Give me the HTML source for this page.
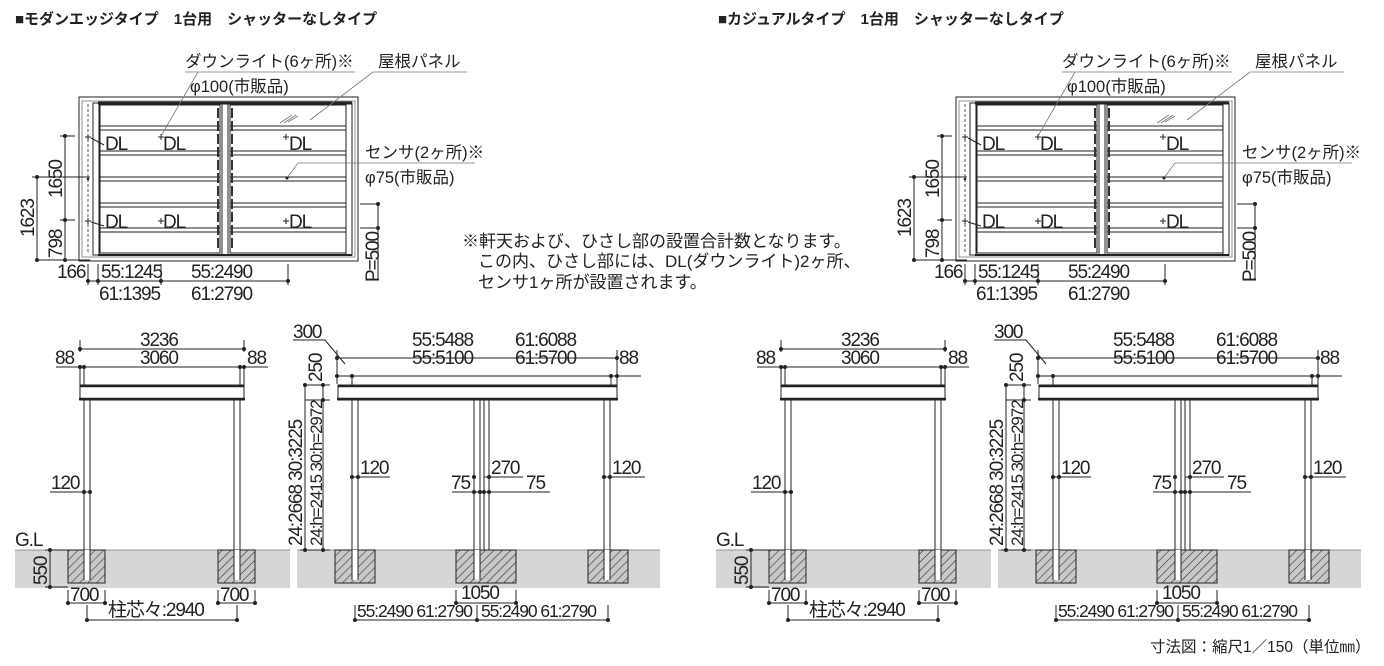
<!DOCTYPE html>
<html><head><meta charset="utf-8"><style>
html,body{margin:0;padding:0;background:#fff;width:1384px;height:666px;overflow:hidden}
svg{display:block}
text{font-family:"Liberation Sans","Noto Sans CJK JP",sans-serif;fill:#222}
.n{font-size:19px;letter-spacing:-1.1px}
.j{font-size:16.5px}
.t{font-size:15px;font-weight:bold}
.l{stroke:#222;stroke-width:1;fill:none}
.g{stroke:#777;stroke-width:0.8;fill:none}
</style></head><body>
<svg width="1384" height="666" viewBox="0 0 1384 666" xmlns="http://www.w3.org/2000/svg">
<defs>
<pattern id="h" patternUnits="userSpaceOnUse" width="6" height="6" patternTransform="rotate(45)"><rect width="6" height="6" fill="#c8c8c8"/><line x1="0" y1="0" x2="0" y2="6" stroke="#333" stroke-width="1.2"/></pattern>
</defs>
<text class="t" x="15" y="24">■モダンエッジタイプ　1台用　シャッターなしタイプ</text>
<text class="t" x="718" y="24">■カジュアルタイプ　1台用　シャッターなしタイプ</text>

<g id="plan">
<rect x="79" y="97" width="279" height="164" class="l" stroke-width="1.5"/>
<rect x="82" y="101" width="273" height="156" class="g"/>
<line x1="98" y1="103" x2="352" y2="103" stroke="#222" stroke-width="3"/>
<line x1="98" y1="255" x2="352" y2="255" stroke="#222" stroke-width="2"/>
<line x1="88" y1="104" x2="88" y2="254" stroke="#555" stroke-dasharray="3,2"/>
<rect x="93" y="103" width="6" height="152" class="l"/>
<rect x="346" y="103" width="6" height="152" class="l"/>
<rect x="222" y="103" width="6" height="152" class="l"/>
<rect x="100" y="105" width="120" height="148" class="l"/>
<rect x="230" y="105" width="116" height="148" class="l"/>
<g class="l">
<path d="M100 126H220M100 130H220M230 126H346M230 130H346"/>
<path d="M100 151H220M100 155H220M230 151H346M230 155H346"/>
<path d="M100 177H220M100 181H220M230 177H346M230 181H346"/>
<path d="M100 203H220M100 207H220M230 203H346M230 207H346"/>
<path d="M100 228H220M100 232H220M230 228H346M230 232H346"/>
</g>
<path d="M218 108V250M232 108V250" stroke="#333" stroke-width="2" stroke-dasharray="10,3"/>
<path d="M280 123L292 115M284 123L296 115M288 122L298 116" class="g"/>
<text class="n" x="105" y="150">DL</text><text class="n" x="163" y="150">DL</text><text class="n" x="289" y="150">DL</text>
<text class="n" x="105" y="228">DL</text><text class="n" x="163" y="228">DL</text><text class="n" x="289" y="228">DL</text>
<g class="l"><path d="M85 137h6M88 134v6M158 137h6M161 134v6M283 137h6M286 134v6M85 221h6M88 218v6M158 221h6M161 218v6M283 221h6M286 218v6"/>
<path d="M91 138L104 145M91 222L104 226"/></g>
<circle cx="88" cy="179" r="1.3" fill="#222"/>
<text class="j" x="185" y="67">ダウンライト(6ヶ所)※</text>
<line x1="185" y1="72" x2="355" y2="72" class="g"/>
<text class="j" x="190" y="92">φ100(市販品)</text>
<line x1="198" y1="72" x2="161" y2="136" class="g"/>
<text class="j" x="378" y="67">屋根パネル</text>
<path d="M467 72H373L310 120" class="g"/>
<text class="j" x="365" y="158">センサ(2ヶ所)※</text>
<text class="j" x="365" y="183">φ75(市販品)</text>
<path d="M475 163H298L287 178" class="g"/>
<circle cx="287" cy="178" r="1.5" fill="#222"/>
<g class="l">
<path d="M65 136V220M60 136H75M37 177V260M32 177H90M37 260H90M65 260V220M60 220H75"/>
<path d="M88 281H288M88 264V285M98 264V285M161 264V285M288 264V285"/>
<path d="M378 204V280M360 204H380M360 228H380"/>
</g>
<g fill="#222"><circle cx="65" cy="136" r="2"/><circle cx="65" cy="220" r="2"/><circle cx="65" cy="260" r="2"/><circle cx="37" cy="177" r="2"/><circle cx="37" cy="260" r="2"/><circle cx="88" cy="281" r="2"/><circle cx="98" cy="281" r="2"/><circle cx="161" cy="281" r="2"/><circle cx="288" cy="281" r="2"/><circle cx="378" cy="204" r="2"/><circle cx="378" cy="228" r="2"/></g>
<text class="n" transform="translate(62,198) rotate(-90)">1650</text>
<text class="n" transform="translate(34,237) rotate(-90)">1623</text>
<text class="n" transform="translate(62,258) rotate(-90)">798</text>
<text class="n" transform="translate(379,282) rotate(-90)">P=500</text>
<text class="n" x="57" y="278">166</text>
<text class="n" x="101" y="278">55:1245</text>
<text class="n" x="191" y="278">55:2490</text>
<text class="n" x="99" y="300">61:1395</text>
<text class="n" x="191" y="300">61:2790</text>
</g>
<use href="#plan" transform="translate(877,0)"/>

<text x="462" y="247" style="font-size:17px">※軒天および、ひさし部の設置合計数となります。</text>
<text x="478" y="267" style="font-size:17px">この内、ひさし部には、DL(ダウンライト)2ヶ所、</text>
<text x="478" y="288" style="font-size:17px">センサ1ヶ所が設置されます。</text>

<g id="elev">
<rect x="15" y="550" width="275" height="38" fill="#d6d6d6"/>
<rect x="297" y="550" width="363" height="38" fill="#d6d6d6"/>
<line x1="15" y1="550" x2="290" y2="550" class="g"/>
<line x1="297" y1="550" x2="660" y2="550" class="g"/>
<text class="n" x="15" y="546">G.L</text>
<g class="l">
<path d="M80 349H244M80 340V352M244 340V352M56 367H268M80 367V386M84 367V386M240 367V386M244 367V386"/>
</g>
<g fill="#222"><circle cx="80" cy="349" r="2"/><circle cx="244" cy="349" r="2"/><circle cx="80" cy="367" r="2"/><circle cx="84" cy="367" r="2"/><circle cx="240" cy="367" r="2"/><circle cx="244" cy="367" r="2"/></g>
<text class="n" x="140" y="346">3236</text>
<text class="n" x="140" y="364">3060</text>
<text class="n" x="55" y="364">88</text><text class="n" x="247" y="364">88</text>
<rect x="80" y="385" width="164" height="15" class="l"/>
<line x1="80" y1="386" x2="244" y2="386" stroke="#222" stroke-width="2.5"/>
<line x1="79" y1="399" x2="245" y2="399" stroke="#222" stroke-width="2.5"/>
<rect x="84" y="400" width="6" height="182" class="l" style="fill:#fff"/>
<rect x="234" y="400" width="6" height="182" class="l" style="fill:#fff"/>
<rect x="68" y="550" width="37" height="33" class="l" style="fill:url(#h)"/>
<rect x="84" y="550" width="6" height="30" style="fill:#fff"/>
<rect x="218" y="550" width="37" height="33" class="l" style="fill:url(#h)"/>
<rect x="234" y="550" width="6" height="30" style="fill:#fff"/>
<g class="l"><path d="M84 550V580M90 550V580M234 550V580M240 550V580"/></g>
<g class="l"><path d="M50 492H90M50 550V587M45 550H68M45 587H68M68 590V605M105 590V605M218 590V605M255 590V605M68 603H105M218 603H255M87 605V622M237 605V622M87 620H237"/></g>
<g fill="#222"><circle cx="84" cy="492" r="2"/><circle cx="90" cy="492" r="2"/><circle cx="50" cy="550" r="2"/><circle cx="50" cy="587" r="2"/><circle cx="68" cy="603" r="2"/><circle cx="105" cy="603" r="2"/><circle cx="218" cy="603" r="2"/><circle cx="255" cy="603" r="2"/><circle cx="87" cy="620" r="2"/><circle cx="237" cy="620" r="2"/></g>
<text class="n" x="51" y="489">120</text>
<text class="n" transform="translate(47,585) rotate(-90)">550</text>
<text class="n" x="70" y="601">700</text><text class="n" x="220" y="601">700</text>
<text class="n" x="108" y="616">柱芯々:2940</text>
<g class="l"><path d="M337 358H617M337 350V384M617 350V384M337 376H641M352 376V386M611 376V386M617 376V386M293 340H325L345 364M305 385H330M305 400H330M300 550H330M305 385V550M323 385V550"/></g>
<g fill="#222"><circle cx="337" cy="358" r="2"/><circle cx="617" cy="358" r="2"/><circle cx="337" cy="376" r="2"/><circle cx="352" cy="376" r="2"/><circle cx="611" cy="376" r="2"/><circle cx="617" cy="376" r="2"/><circle cx="323" cy="385" r="2"/><circle cx="323" cy="400" r="2"/><circle cx="305" cy="385" r="2"/><circle cx="305" cy="550" r="2"/><circle cx="323" cy="550" r="2"/></g>
<text class="n" x="293" y="338">300</text>
<text class="n" x="412" y="346">55:5488</text><text class="n" x="515" y="346">61:6088</text>
<text class="n" x="412" y="364">55:5100</text><text class="n" x="515" y="364">61:5700</text>
<text class="n" x="619" y="364">88</text>
<text class="n" transform="translate(322,382) rotate(-90)">250</text>
<text class="n" transform="translate(302,546) rotate(-90)">24:2668  30:3225</text>
<text class="n" style="font-size:17px" transform="translate(322,546) rotate(-90)">24:h=2415  30:h=2972</text>
<rect x="338" y="385" width="279" height="15" class="l"/>
<line x1="338" y1="386" x2="617" y2="386" stroke="#222" stroke-width="2.5"/>
<line x1="337" y1="399" x2="618" y2="399" stroke="#222" stroke-width="2.5"/>
<rect x="352" y="400" width="6" height="182" class="l" style="fill:#fff"/>
<rect x="474" y="400" width="6" height="182" class="l" style="fill:#fff"/>
<rect x="484" y="400" width="5" height="150" class="l" style="fill:#fff"/>
<rect x="604" y="400" width="6" height="182" class="l" style="fill:#fff"/>
<rect x="335" y="550" width="40" height="33" class="l" style="fill:url(#h)"/><rect x="352" y="550" width="6" height="30" style="fill:#fff"/>
<rect x="456" y="550" width="60" height="33" class="l" style="fill:url(#h)"/><rect x="474" y="550" width="6" height="30" style="fill:#fff"/>
<rect x="588" y="550" width="40" height="33" class="l" style="fill:url(#h)"/><rect x="604" y="550" width="6" height="30" style="fill:#fff"/>
<g class="l"><path d="M352 550V580M358 550V580M474 550V580M480 550V580M604 550V580M610 550V580"/></g>
<g class="l"><path d="M352 477H390M484 477H523M452 492H550M604 477H645M456 590V605M516 590V605M456 603H516M355 605V622M477 605V622M608 605V622M355 620H608"/></g>
<g fill="#222"><circle cx="352" cy="477" r="2"/><circle cx="358" cy="477" r="2"/><circle cx="474" cy="477" r="2"/><circle cx="489" cy="477" r="2"/><circle cx="474" cy="492" r="2"/><circle cx="480" cy="492" r="2"/><circle cx="484" cy="492" r="2"/><circle cx="489" cy="492" r="2"/><circle cx="604" cy="477" r="2"/><circle cx="610" cy="477" r="2"/><circle cx="456" cy="603" r="2"/><circle cx="516" cy="603" r="2"/><circle cx="355" cy="620" r="2"/><circle cx="477" cy="620" r="2"/><circle cx="608" cy="620" r="2"/></g>
<text class="n" x="360" y="474">120</text>
<text class="n" x="491" y="474">270</text>
<text class="n" x="451" y="489">75</text><text class="n" x="526" y="489">75</text>
<text class="n" x="612" y="474">120</text>
<text class="n" x="461" y="599">1050</text>
<text class="n" style="font-size:17.5px" x="357" y="617">55:2490 61:2790</text>
<text class="n" style="font-size:17.5px" x="481" y="617">55:2490 61:2790</text>
</g>
<use href="#elev" transform="translate(701,0)"/>

<text x="1150" y="652" style="font-size:15.5px">寸法図：縮尺1／150（単位㎜）</text>
</svg>
</body></html>
